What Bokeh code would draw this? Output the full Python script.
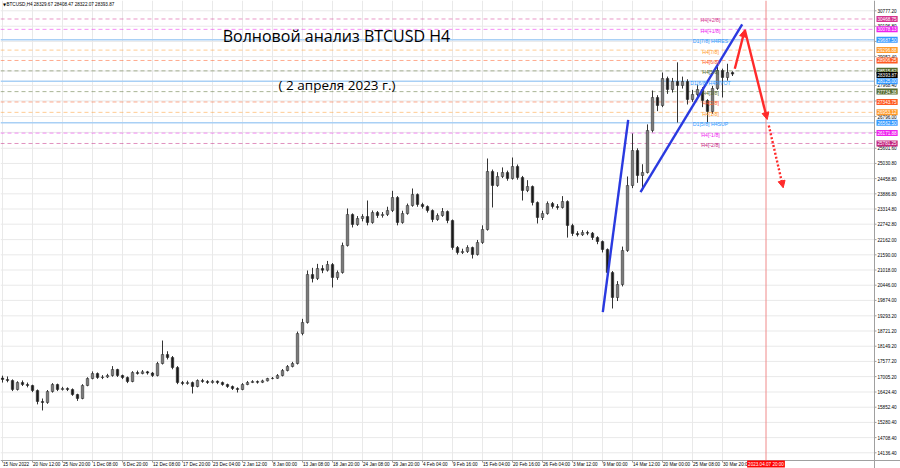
from bokeh.plotting import figure
from bokeh.models import Range1d, Label, Arrow, NormalHead, ColumnDataSource
from bokeh.core.properties import value
from bokeh.embed import file_html
from bokeh.resources import INLINE

# ---------------- data ----------------
opens = [16950,16896,16858,16519,16783,16707,16670,16481,16067,16030,
         16444,16707,16519,16557,16519,16331,16180,16670,16933,17121,
         16971,16990,17046,17272,17046,16971,16820,17159,17120,17185,
         17140,17046,17498,17837,17724,17347,16783,16745,16780,16632,
         16858,16820,16783,16830,16783,16707,16632,16557,16519,16707,
         16783,16820,16790,16845,16933,16940,17046,17234,17385,17498,
         18627,19042,20849,20698,21075,21010,21225,20736,20924,21941,
         23108,22731,22957,23033,22807,23183,23070,23110,23258,23748,
         22807,23145,23447,23861,23484,23409,23258,22920,23070,23221,
         22882,21865,21677,21715,21865,21602,22054,22543,24727,24200,
         24539,24689,24463,24915,24501,24011,24162,23560,22995,23145,
         23522,23409,23371,23597,22694,22392,22350,22430,22405,22242,
         22091,21790,20924,19983,20472,21752,24200,25517,24576,24689,
         26270,27513,27212,28228,27814,28115,27965,28115,27438,27626,
         27814,27400,26986,27852,28529,28266,28454]
closes = [16896,16858,16519,16783,16707,16670,16481,16067,16030,16444,
          16707,16519,16557,16519,16331,16180,16670,16933,17121,16971,
          16990,17046,17272,17046,16971,16820,17159,17120,17185,17140,
          17046,17498,17837,17724,17347,16783,16745,16780,16632,16858,
          16820,16783,16830,16783,16707,16632,16557,16519,16707,16783,
          16820,16790,16845,16933,16940,17046,17234,17385,17498,18627,
          19042,20849,20698,21075,21010,21225,20736,20924,21941,23108,
          22731,22957,23033,22807,23183,23070,23110,23258,23748,22807,
          23145,23447,23861,23484,23409,23258,22920,23070,23221,22882,
          21865,21677,21715,21865,21602,22054,22543,24727,24200,24539,
          24689,24463,24915,24501,24011,24162,23560,22995,23145,23522,
          23409,23371,23597,22694,22392,22350,22430,22405,22242,22091,
          21790,20924,19983,20472,21752,24200,25517,24576,24689,26270,
          27513,27212,28228,27814,28115,27965,28115,27438,27626,27814,
          27400,26986,27852,28529,28266,28454,28394]
highs = [17040,17010,16900,16830,16860,16780,16700,16520,16180,16500,
         16760,16740,16620,16600,16560,16360,16720,16980,17200,17160,
         17060,17110,17400,17300,17080,17010,17210,17230,17250,17220,
         17180,17560,18364,17960,17780,17400,16840,16850,16820,16900,
         16920,16870,16880,16860,16820,16740,16670,16600,16760,16840,
         16870,16860,16890,16960,16990,17100,17290,17440,17560,18700,
         19180,21000,21100,21250,21200,21360,21280,21000,22050,23334,
         23150,23050,23120,23635,23260,23240,23200,23400,24000,23800,
         23250,23520,24087,23900,23550,23450,23300,23150,23350,23260,
         22920,21920,21820,21950,21900,22150,22700,25216,24800,24700,
         24880,24760,25254,24990,24560,24400,24200,23600,23250,23600,
         23580,23500,23800,23640,22760,22480,22520,22500,22450,22290,
         22130,21830,20980,20600,21900,24539,26158,25600,25000,26500,
         27776,27600,28454,28300,28250,28837,28300,28200,27800,28000,
         27900,27450,27950,28680,28600,28784,28500]
lows = [16780,16790,16460,16480,16650,16600,16420,15960,15730,15980,
        16400,16460,16480,16460,16280,16090,16150,16640,16900,16920,
        16910,16950,17000,16990,16910,16760,16790,17080,17090,17080,
        16990,17010,17460,17650,17280,16720,16680,16700,16369,16600,
        16770,16730,16740,16720,16660,16580,16500,16406,16490,16680,
        16760,16740,16760,16820,16900,16920,17010,17200,17350,17460,
        18560,19000,20550,20640,20900,20960,20360,20650,20880,21900,
        22620,22680,22850,22700,22760,22980,22990,23050,23200,22700,
        22760,23100,23400,23400,23330,23180,22820,22870,23020,22780,
        21780,21600,21620,21660,21451,21560,22000,22500,23372,24150,
        24480,24380,24420,24420,23635,23950,23450,22769,22900,23100,
        23330,23290,23330,22239,22300,22280,22300,22330,22150,21990,
        21680,20800,19569,19850,20400,21700,24100,24300,24011,24650,
        26200,27000,27150,27650,27700,26570,27850,27250,27350,27550,
        27150,26580,26900,27800,27513,28150,28322]

x_tick_pos = [0, 6, 12, 18, 24, 30, 36, 42, 48, 54, 60, 66, 72, 78, 84, 90, 96,
              102, 108, 114, 120, 126, 132, 138, 144]
x_tick_labels = ["15 Nov 2022", "20 Nov 12:00", "25 Nov 20:00", "1 Dec 08:00", "6 Dec 20:00",
                 "12 Dec 08:00", "17 Dec 20:00", "23 Dec 04:00", "2 Jan 12:00", "8 Jan 00:00",
                 "13 Jan 08:00", "18 Jan 20:00", "24 Jan 08:00", "29 Jan 20:00", "4 Feb 04:00",
                 "9 Feb 16:00", "15 Feb 04:00", "20 Feb 16:00", "26 Feb 04:00", "3 Mar 12:00",
                 "9 Mar 00:00", "14 Mar 12:00", "20 Mar 00:00", "25 Mar 08:00", "30 Mar 20:00"]

y_tick_pos = [14136.40, 14708.40, 15280.40, 15852.40, 16424.40, 17005.20, 17577.20, 18149.20,
              18721.20, 19293.20, 19874.00, 20446.00, 21018.00, 21590.00, 22162.00, 22742.80,
              23314.80, 23886.80, 24458.80, 25030.80, 25601.60, 26198.80, 26796.00, 27382.20,
              27968.40, 28510.40, 29052.40, 29624.60, 30196.80, 30777.20]
y_tick_labels = ["14136.40", "14708.40", "15280.40", "15852.40", "16424.40", "17005.20", "17577.20",
                 "18149.20", "18721.20", "19293.20", "19874.00", "20446.00", "21018.00", "21590.00",
                 "22162.00", "22742.80", "23314.80", "23886.80", "24458.80", "25030.80", "25601.60",
                 "", "26796.00", "", "27968.40", "", "29052.40", "", "30196.80", "30777.20"]

levels = [30468.75, 30078.13, 29687.50, 29296.88, 28906.25, 28515.62, 28125.00,
          27734.38, 27343.75, 26953.12, 26562.50, 26171.88, 25781.25]
level_names = ["H4[+2/8]", "H4[+1/8]", "D1[7/8] H4RES", "H4[7/8]", "H4[6/8]", "H4[5/8]",
               "D1[6/8] H4PIVOT", "H4[3/8]", "H4[2/8]", "H4[1/8]", "D1[5/8] H4SUP",
               "H4[-1/8]", "H4[-2/8]"]
level_colors = ["#d4338f", "#ee22ee", "#3399ff", "#ff9a2a", "#ff5a22", "#556b2f", "#3399ff",
                "#556b2f", "#ff5a22", "#ff9a2a", "#3399ff", "#ee22ee", "#c4267f"]
level_kind = ["h4", "h4", "d1", "h4", "h4", "h4", "d1", "h4", "h4", "h4", "d1", "h4", "h4"]

last_price = 28393.87
header = "BTCUSD,H4  28329.67 28408.47 28322.07 28393.87"
title_text = "Волновой анализ BTCUSD H4"
subtitle_text = "( 2 апреля 2023 г.)"
future_bar = 152.7
future_label = "2023.04.07 20:00"

wave1_x = [120.06, 125.14]
wave1_y = [19430, 26674]
wave2_x = [127.6, 147.94]
wave2_y = [23948, 30262]
fc_x = [146.46, 148.46, 152.94]
fc_y = [28594, 30062, 26685]
fc2_x = [153.26, 156.14]
fc2_y = [26459, 24113]

# ---------------- geometry (MT4-like chart window) ----------------
X0, XC, XR = -0.4, 174.4, 179.6        # left edge, price-scale edge, canvas right edge (bars)
YB, YC, YT = 13545.0, 13846.0, 31165.0  # canvas bottom, time-scale edge, top (price)
PX_X = 5.0      # pixels per bar unit
PX_Y = 37.65    # price per pixel

p = figure(width=900, height=468, output_backend="svg", toolbar_location=None,
           x_range=Range1d(X0, XR), y_range=Range1d(YB, YT),
           x_axis_location=None, y_axis_location=None,
           min_border_left=0, min_border_top=0, min_border_right=0, min_border_bottom=0)
p.background_fill_color = "white"
p.border_fill_color = "white"
p.outline_line_color = None
p.xgrid.visible = False
p.ygrid.visible = False

AX_FONT = "Liberation Sans"
GRID = "#e9e9e9"
AXC = "#a0a0a0"

# grid
p.segment(x0=x_tick_pos, y0=[YC] * len(x_tick_pos), x1=x_tick_pos, y1=[YT] * len(x_tick_pos),
          line_color=GRID, line_width=1)
p.segment(x0=[X0] * len(y_tick_pos), y0=y_tick_pos, x1=[XC] * len(y_tick_pos), y1=y_tick_pos,
          line_color=GRID, line_width=1)

# level lines
for lv, col, kind in zip(levels, level_colors, level_kind):
    if kind == "d1":
        p.segment(x0=[X0], y0=[lv], x1=[XC], y1=[lv], line_color="#a9d0f5", line_width=1.6)
    else:
        p.segment(x0=[X0], y0=[lv], x1=[XC], y1=[lv], line_color=col, line_alpha=0.5,
                  line_width=1, line_dash="4 3")

# future vertical line
p.segment(x0=[future_bar], y0=[YC], x1=[future_bar], y1=[YT], line_color="#f08a8a", line_width=1)

# axes frame lines + ticks
p.segment(x0=[XC], y0=[YB], x1=[XC], y1=[YT], line_color=AXC, line_width=1)
p.segment(x0=[X0], y0=[YC], x1=[XR], y1=[YC], line_color=AXC, line_width=1)
p.segment(x0=[XC] * len(y_tick_pos), y0=y_tick_pos, x1=[XC + 2 / PX_X] * len(y_tick_pos),
          y1=y_tick_pos, line_color=AXC, line_width=1)
p.segment(x0=x_tick_pos, y0=[YC] * len(x_tick_pos), x1=x_tick_pos,
          y1=[YC - 2 * PX_Y] * len(x_tick_pos), line_color=AXC, line_width=1)

# tick labels
p.text(x=[XC + 3 / PX_X] * len(y_tick_pos), y=y_tick_pos, text=y_tick_labels,
       text_font=value(AX_FONT), text_font_size="4.6px", text_color="#000000",
       text_baseline="middle", text_align="left")
p.text(x=[t + 0.1 for t in x_tick_pos], y=[YC - 3.6 * PX_Y] * len(x_tick_pos), text=x_tick_labels,
       text_font=value(AX_FONT), text_font_size="4.6px", text_color="#000000",
       text_baseline="middle", text_align="left")

# candles
xs = list(range(len(closes)))
fill = ["#7a7a7a" if c >= o else "#1a1a1a" for o, c in zip(opens, closes)]
src = ColumnDataSource(dict(x=xs, h=highs, l=lows, f=fill,
                            top=[max(a, b) for a, b in zip(opens, closes)],
                            bot=[min(a, b) for a, b in zip(opens, closes)]))
p.segment(x0="x", y0="h", x1="x", y1="l", source=src, line_color="#333333", line_width=1)
p.vbar(x="x", width=0.5, top="top", bottom="bot", source=src, fill_color="f",
       line_color="#262626", line_width=0.5)

# level labels on chart
for lv, nm, col in zip(levels, level_names, level_colors):
    p.add_layout(Label(x=141.6, y=lv, text=nm, text_align="center", text_baseline="middle",
                       y_offset=-1.5, text_font=AX_FONT, text_font_size="5.2px", text_color=col))

# wave lines
p.line(wave1_x, wave1_y, line_color="#2a3ae0", line_width=2.4)
p.line(wave2_x, wave2_y, line_color="#2a3ae0", line_width=2.4)

RED = "#ff2a2a"
for i in range(len(fc_x) - 1):
    p.add_layout(Arrow(end=NormalHead(size=7, fill_color=RED, line_color=RED),
                       x_start=fc_x[i], y_start=fc_y[i], x_end=fc_x[i + 1], y_end=fc_y[i + 1],
                       line_color=RED, line_width=2.4))
p.add_layout(Arrow(end=NormalHead(size=7, fill_color=RED, line_color=RED),
                   x_start=fc2_x[0], y_start=fc2_y[0], x_end=fc2_x[1], y_end=fc2_y[1],
                   line_color=RED, line_width=2.4, line_dash="2 2"))

# price-scale boxes
for lv, col in zip(levels, level_colors):
    p.add_layout(Label(x=XC, y=lv, x_offset=2, text=f"{lv:.2f}", text_align="left",
                       text_baseline="middle", text_font=AX_FONT, text_font_size="4.6px",
                       text_color="white", background_fill_color=col, padding=1))
p.add_layout(Label(x=XC, y=last_price, x_offset=2, y_offset=-1, text=f"{last_price:.2f}",
                   text_align="left", text_baseline="middle", text_font=AX_FONT,
                   text_font_size="4.6px", text_color="white", background_fill_color="#000000",
                   padding=1))

# future time box on time scale
p.add_layout(Label(x=future_bar, y=YC - 3.6 * PX_Y, text=future_label, text_align="center",
                   text_baseline="middle", text_font=AX_FONT, text_font_size="4.6px",
                   text_color="white", background_fill_color="#ff0000", padding=1))

# header
p.add_layout(Label(x=0.1, y=31014, text="▼", text_baseline="middle", text_font="DejaVu Sans",
                   text_font_size="4px", text_color="#000000"))
p.add_layout(Label(x=0.8, y=31014, text=header, text_baseline="middle", text_font=AX_FONT,
                   text_font_size="4.6px", text_color="#000000"))

# titles
p.add_layout(Label(x=66.8, y=29847, text=title_text, text_align="center", text_baseline="middle",
                   text_font="Open Sans", text_font_size="16px", text_color="#000000"))
p.add_layout(Label(x=66.9, y=27965, text=subtitle_text, text_align="center",
                   text_baseline="middle", text_font="Open Sans", text_font_size="13.5px",
                   text_color="#000000"))

open("out.html", "w").write(file_html(p, INLINE))
